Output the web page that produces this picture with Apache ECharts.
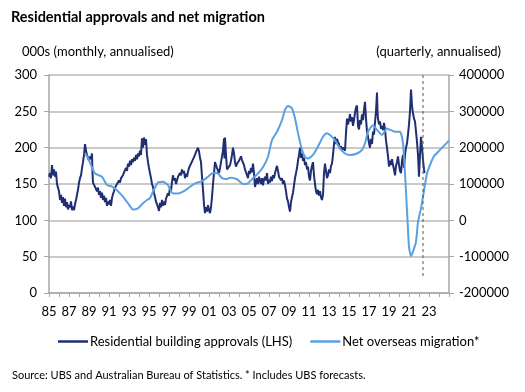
<!DOCTYPE html>
<html><head><meta charset="utf-8">
<script src="https://cdn.jsdelivr.net/npm/echarts@6/dist/echarts.min.js"></script>
<style>html,body{margin:0;padding:0;background:#fff}#c{width:525px;height:392px}</style>
</head><body><div id="c"></div>
<script>
// Residential building approvals (000s, monthly annualised) - LHS
var approvalYears = [1985.0,1985.1,1985.2,1985.3,1985.4,1985.5,1985.6,1985.7,1985.8,1985.9,1986.0,1986.1,1986.2,1986.3,1986.4,1986.5,1986.6,1986.7,1986.8,1986.9,1987.0,1987.1,1987.2,1987.3,1987.4,1987.5,1987.6,1987.7,1987.8,1987.9,1988.0,1988.1,1988.2,1988.3,1988.4,1988.5,1988.6,1988.7,1988.8,1988.9,1989.0,1989.1,1989.2,1989.3,1989.35,1989.4,1989.5,1989.6,1989.7,1989.8,1989.9,1990.0,1990.1,1990.2,1990.3,1990.4,1990.5,1990.6,1990.7,1990.8,1990.9,1991.0,1991.1,1991.2,1991.3,1991.4,1991.5,1991.6,1991.7,1991.8,1992.0,1992.1,1992.2,1992.4,1992.5,1992.6,1992.7,1992.8,1992.9,1993.0,1993.1,1993.2,1993.3,1993.4,1993.5,1993.6,1993.7,1993.8,1993.9,1994.0,1994.1,1994.2,1994.3,1994.4,1994.5,1994.6,1994.7,1994.8,1994.9,1995.0,1995.1,1995.2,1995.3,1995.4,1995.5,1995.6,1995.7,1995.8,1995.9,1996.0,1996.1,1996.2,1996.3,1996.4,1996.5,1996.6,1996.7,1996.8,1996.9,1997.0,1997.1,1997.2,1997.3,1997.4,1997.5,1997.6,1997.7,1997.8,1997.9,1998.0,1998.1,1998.2,1998.3,1998.4,1998.5,1998.6,1998.7,1998.8,1998.9,1999.0,1999.1,1999.2,1999.3,1999.4,1999.5,1999.6,1999.7,1999.8,1999.9,2000.0,2000.1,2000.2,2000.3,2000.4,2000.5,2000.6,2000.7,2000.8,2000.9,2001.0,2001.1,2001.2,2001.3,2001.4,2001.5,2001.6,2001.7,2001.8,2001.9,2002.0,2002.1,2002.2,2002.3,2002.4,2002.5,2002.55,2002.6,2002.7,2002.8,2002.9,2003.0,2003.1,2003.2,2003.3,2003.4,2003.5,2003.6,2003.7,2003.8,2003.9,2004.0,2004.1,2004.2,2004.3,2004.4,2004.5,2004.6,2004.7,2004.8,2004.9,2005.0,2005.1,2005.2,2005.3,2005.4,2005.5,2005.6,2005.7,2005.8,2005.9,2006.0,2006.1,2006.2,2006.3,2006.4,2006.5,2006.6,2006.7,2006.8,2006.9,2007.0,2007.1,2007.2,2007.3,2007.4,2007.5,2007.6,2007.7,2007.8,2007.9,2008.0,2008.1,2008.2,2008.3,2008.4,2008.5,2008.6,2008.7,2008.8,2008.9,2009.0,2009.1,2009.2,2009.3,2009.4,2009.5,2009.6,2009.7,2009.8,2009.9,2010.0,2010.1,2010.2,2010.3,2010.4,2010.5,2010.6,2010.7,2010.8,2010.9,2011.0,2011.1,2011.2,2011.3,2011.4,2011.5,2011.6,2011.7,2011.8,2011.9,2012.0,2012.1,2012.2,2012.3,2012.4,2012.5,2012.6,2012.7,2012.8,2012.9,2013.0,2013.1,2013.2,2013.3,2013.4,2013.5,2013.6,2013.7,2013.8,2013.9,2014.0,2014.1,2014.2,2014.3,2014.4,2014.5,2014.6,2014.7,2014.8,2014.9,2015.0,2015.1,2015.2,2015.3,2015.4,2015.5,2015.6,2015.7,2015.8,2015.9,2016.0,2016.1,2016.2,2016.3,2016.4,2016.5,2016.6,2016.7,2016.8,2016.9,2017.0,2017.1,2017.2,2017.3,2017.4,2017.5,2017.6,2017.7,2017.8,2017.85,2017.9,2018.0,2018.1,2018.2,2018.3,2018.4,2018.5,2018.6,2018.7,2018.8,2018.9,2019.0,2019.1,2019.2,2019.3,2019.4,2019.5,2019.6,2019.7,2019.8,2019.9,2020.0,2020.1,2020.2,2020.3,2020.4,2020.5,2020.6,2020.7,2020.8,2020.9,2021.0,2021.1,2021.2,2021.3,2021.4,2021.5,2021.6,2021.7,2021.8,2021.9,2022.0,2022.1,2022.2,2022.3,2022.4,2022.5,2022.55];
var approvalValues = [160,165,158,176,162,170,160,167,150,145,140,128,135,124,132,120,130,118,125,115,121,118,126,114,119,114,122,128,135,142,152,158,162,172,180,190,205,196,190,186,182,188,184,192,165,152,150,146,144,140,145,135,140,131,138,128,134,125,131,120,126,122,128,120,131,136,140,145,143,150,155,152,158,162,166,164,172,168,178,174,182,176,184,180,186,182,190,184,192,188,196,190,213,200,214,204,212,190,180,172,165,158,150,146,138,132,126,124,118,113,124,118,128,120,126,121,130,128,137,134,146,140,153,162,155,158,150,152,160,158,165,162,170,165,168,158,164,160,167,172,170,178,176,184,186,190,194,197,200,195,186,180,160,142,122,110,118,112,121,114,110,118,132,150,165,180,176,172,170,165,172,180,188,196,213,185,214,190,170,172,170,176,182,190,200,192,180,174,178,176,182,185,188,183,185,176,170,168,162,158,168,164,172,166,178,165,146,152,158,150,160,155,150,158,148,156,160,155,165,150,156,152,160,154,162,158,165,170,175,168,160,162,155,158,150,155,148,140,130,126,118,112,125,132,138,148,158,165,172,182,190,200,186,192,182,186,176,180,170,174,160,155,168,175,180,162,150,140,136,142,134,140,132,128,135,165,178,168,158,162,170,165,175,178,190,205,215,205,212,208,205,198,202,197,200,198,196,220,240,232,238,246,236,242,230,238,248,255,258,230,225,238,232,246,238,252,263,240,222,215,206,200,212,205,222,218,235,250,276,250,240,232,236,226,230,224,234,225,210,200,188,174,182,176,184,176,170,162,175,180,188,176,168,165,182,190,172,190,200,206,218,232,250,280,258,247,240,236,222,208,190,160,190,215,200,183,170,165];

// Net overseas migration (persons, quarterly annualised, incl. UBS forecasts) - RHS
var migrationYears = [1988.6,1988.9,1989.6,1990.3,1990.8,1991.3,1991.8,1992.4,1992.9,1993.4,1993.9,1994.4,1994.8,1995.1,1995.4,1995.9,1996.4,1996.9,1997.4,1997.9,1998.4,1998.9,1999.6,2000.3,2000.9,2001.3,2001.6,2001.9,2002.3,2002.8,2003.1,2003.8,2004.4,2004.9,2005.4,2005.9,2006.4,2006.9,2007.3,2007.8,2008.3,2008.6,2008.9,2009.3,2009.6,2009.9,2010.3,2010.6,2010.9,2011.4,2011.9,2012.4,2012.8,2013.1,2013.6,2014.1,2014.6,2015.1,2015.8,2016.3,2016.6,2016.9,2017.4,2017.8,2018.3,2018.8,2019.1,2019.6,2020.1,2020.4,2020.6,2020.8,2021.0,2021.2,2021.4,2021.7,2021.9,2022.2,2022.4,2022.8,2023.3,2023.5,2024.1,2024.8,2025.0];
var migrationValues = [185000,172000,129000,120000,97000,93000,83000,65000,47000,30000,33000,47000,56000,61000,79000,104000,106000,97000,74000,74000,79000,88000,102000,108000,120000,129000,131000,129000,116000,114000,117000,113000,100000,102000,116000,129000,146000,175000,221000,244000,276000,304000,315000,308000,281000,240000,194000,175000,170000,180000,203000,230000,240000,235000,221000,198000,184000,180000,184000,194000,212000,244000,262000,249000,235000,253000,249000,244000,244000,212000,129000,28000,-73000,-98000,-86000,-59000,-4000,33000,65000,129000,166000,177000,194000,214000,219000];

// Dashed marker (end of actual approvals data), LHS units
var markerYears = [2022.4, 2022.4];
var markerValues = [300, 22];

var xRange = [1985, 2025];
var xLabelLast = 2023;
var leftTicks = [0, 300, 50];
var rightTicks = [-200000, 400000, 100000];

function pairs(xs, ys){ return xs.map(function(x,i){ return [x, ys[i]]; }); }

var FONT = 'Lato';
var chart = echarts.init(document.getElementById('c'), null, {renderer:'canvas'});
chart.setOption({
  animation:false,
  backgroundColor:'#fff',
  textStyle:{fontFamily:FONT},
  grid:{left:49, right:76, top:75, bottom:99},
  graphic:[
    {type:'text', left:11, top:10, style:{text:'Residential approvals and net migration', font:'bold 14.5px '+FONT, fill:'#000'}},
    {type:'text', left:22, top:45, style:{text:'000s (monthly, annualised)', font:'13px '+FONT, fill:'#000'}},
    {type:'text', right:24, top:45, style:{text:'(quarterly, annualised)', font:'13px '+FONT, fill:'#000'}},
    {type:'text', left:12, top:370, style:{text:'Source: UBS and Australian Bureau of Statistics. * Includes UBS forecasts.', font:'11px '+FONT, fill:'#000'}}
  ],
  legend:{
    left:53, top:330, icon:'rect', itemWidth:30, itemHeight:2.5, itemGap:18,
    textStyle:{fontFamily:FONT, fontSize:13, color:'#000', padding:[0,0,0,-3]},
    data:['Residential building approvals (LHS)','Net overseas migration*']
  },
  xAxis:{
    type:'value', min:xRange[0], max:xRange[1], interval:1,
    axisLine:{lineStyle:{color:'#A6A6A6', width:1.5}},
    axisTick:{show:true, length:4, lineStyle:{color:'#A6A6A6'}},
    splitLine:{show:false},
    axisLabel:{color:'#000', fontSize:13, margin:12, fontFamily:FONT,
      formatter:function(v){ var y=Math.round(v); return (y%2===1 && y<=xLabelLast) ? String(y).slice(2) : ''; }}
  },
  yAxis:[
    {type:'value', min:leftTicks[0], max:leftTicks[1], interval:leftTicks[2],
     axisLine:{show:true, lineStyle:{color:'#A6A6A6', width:1.5}},
     axisTick:{show:true, length:5, lineStyle:{color:'#A6A6A6'}},
     splitLine:{show:true, lineStyle:{color:'#B8B8B8', width:1.5}},
     axisLabel:{color:'#000', fontSize:13, margin:12, fontFamily:FONT}},
    {type:'value', min:rightTicks[0], max:rightTicks[1], interval:rightTicks[2],
     axisLine:{show:true, lineStyle:{color:'#A6A6A6', width:1.5}},
     axisTick:{show:true, length:5, lineStyle:{color:'#A6A6A6'}},
     splitLine:{show:false},
     axisLabel:{color:'#000', fontSize:13, margin:10, fontFamily:FONT,
       formatter:function(v){ return String(v); }}}
  ],
  series:[
    {name:'Residential building approvals (LHS)', type:'line', yAxisIndex:0, symbol:'none',
     lineStyle:{color:'#1F2F72', width:2}, itemStyle:{color:'#1F2F72'}, z:3,
     data:pairs(approvalYears, approvalValues)},
    {name:'Net overseas migration*', type:'line', yAxisIndex:1, symbol:'none', smooth:0.2,
     lineStyle:{color:'#5BA0E0', width:2}, itemStyle:{color:'#5BA0E0'}, z:4,
     data:pairs(migrationYears, migrationValues)},
    {name:'marker', type:'line', yAxisIndex:0, symbol:'none', silent:true,
     lineStyle:{color:'#555', width:1, type:[3,3]}, z:5,
     data:pairs(markerYears, markerValues)}
  ]
});
</script></body></html>
